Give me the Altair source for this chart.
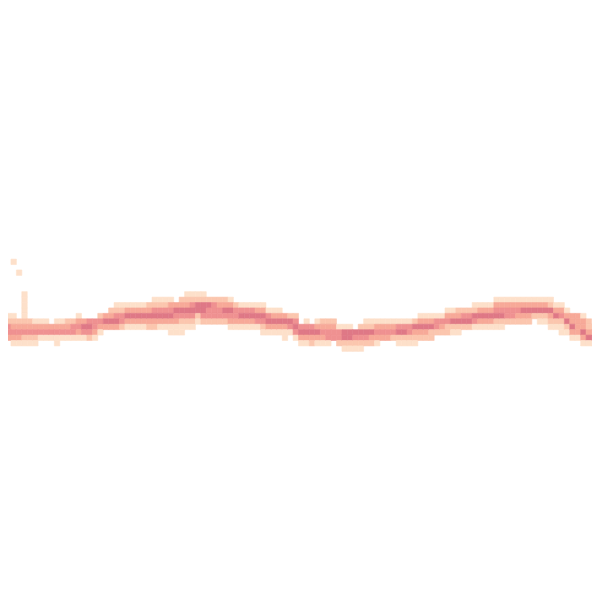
import altair as alt
import pandas as pd

# Binned density of a wavy series: one string per x-bin (column), each
# character is the density level of a y-bin, starting at row TOP_ROW going down.
TOP_ROW = 53
col_levels = [
    "00000344200", "00001244300", "00001234310", "00000234310", "11111234210",
    "00000234210", "00000134210", "00000134100", "00000134100", "00000034100",
    "00000134110", "00000134100", "00000234100", "00000244100", "00001343100",
    "00000354100", "00000454200", "00000443100", "00002431000", "00003530000",
    "00023530000", "00124530000", "00124420000", "00135310000", "00135310000",
    "00135310000", "00135310000", "00235320000", "01245320000", "01245310000",
    "01245310000", "01345311000", "00354311000", "02354211000", "12354210000",
    "12454210000", "12552100000", "12554200000", "02544200000", "02444200000",
    "02344200000", "02354200000", "01354310000", "00244310000", "00145310000",
    "00145310000", "00145310000", "00135410000", "00135421000", "00014531000",
    "00013531000", "00013531000", "00003531100", "00002541000", "00002454100",
    "00000045310", "00000145310", "00000045320", "00000135310", "00000234310",
    "00000234410", "00000234400", "00000014420", "00000015521", "00000015521",
    "00000005421", "00000025421", "00000125420", "00000125320", "00000134310",
    "00000134300", "00000134300", "00000134200", "00000145210", "00000145210",
    "00000144210", "00000253210", "00001353200", "00001353200", "00001352200",
    "00001442000", "00001432000", "00013422000", "00013521000", "00023521000",
    "00024520000", "00024520000", "00125410000", "00135310000", "00135310000",
    "00135310000", "01345210000", "01345210000", "01344200000", "01344200000",
    "01343200000", "01353200000", "01353200000", "01352000000", "01352100000",
    "01352100000", "01253210000", "00135210000", "00134211000", "00013521000",
    "00003353100", "00003333100", "00001335310", "00000223510", "00000023510",
]
# isolated outlier cells
out_cols = [2, 3]
out_rows = [47, 49]
out_levels = [1, 1]

level_domain = [1, 2, 3, 4, 5]
level_colors = ["#fde0ca", "#fbc6ae", "#f7a998", "#ef9191", "#df7886"]

CELL = 5.5
LO = 8 / CELL
HI = 600 / CELL

records = []
for c, s in enumerate(col_levels):
    for p, ch in enumerate(s):
        lv = int(ch)
        if lv > 0:
            records.append({"col": c, "row": TOP_ROW + p, "level": lv})
for c, r, lv in zip(out_cols, out_rows, out_levels):
    records.append({"col": c, "row": r, "level": lv})

df = pd.DataFrame(records)
df["col2"] = df["col"] + 1
df["row2"] = df["row"] + 1

color_scale = alt.Scale(domain=level_domain, range=level_colors)

chart = (
    alt.Chart(df)
    .mark_rect(strokeWidth=0.6, clip=True)
    .encode(
        x=alt.X("col:Q", scale=alt.Scale(domain=[LO, HI], nice=False, zero=False), axis=None),
        x2="col2:Q",
        y=alt.Y("row:Q", scale=alt.Scale(domain=[LO, HI], nice=False, zero=False, reverse=True), axis=None),
        y2="row2:Q",
        color=alt.Color("level:O", scale=color_scale, legend=None),
        stroke=alt.Color("level:O", scale=color_scale, legend=None),
    )
    .properties(
        width=592,
        height=592,
        padding=0,
        autosize=alt.AutoSizeParams(type="fit", contains="padding"),
    )
    .configure_view(stroke=None)
)

chart.save("out.html", embed_options={"renderer": "svg", "actions": False})
